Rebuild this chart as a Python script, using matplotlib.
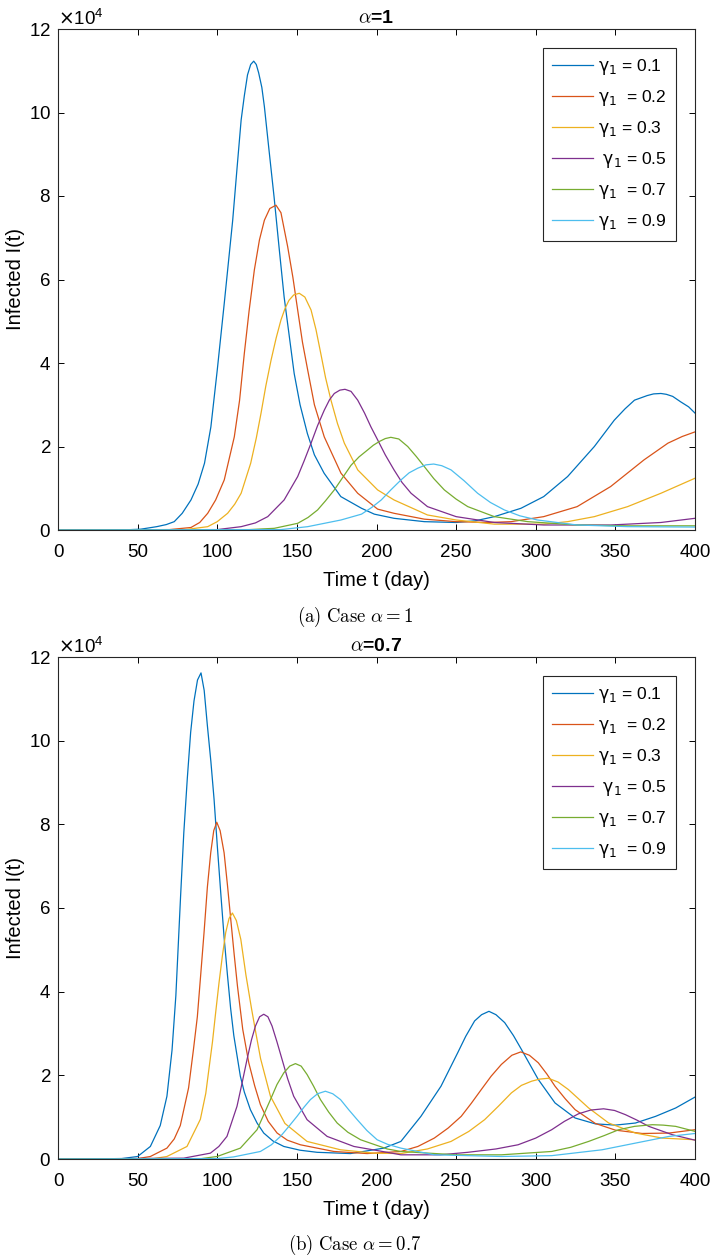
import matplotlib
matplotlib.use("Agg")
import numpy as np
import matplotlib.pyplot as plt
from matplotlib.ticker import ScalarFormatter, MultipleLocator

plt.rcParams['font.family'] = ['Liberation Sans', 'DejaVu Sans']
plt.rcParams['mathtext.fontset'] = 'dejavusans'

# values, infected in units of 1e4
labels = [r'$\mathrm{\gamma}_1$ = 0.1', r'$\mathrm{\gamma}_1$  = 0.2', r'$\mathrm{\gamma}_1$ = 0.3',
          r' $\mathrm{\gamma}_1$ = 0.5', r'$\mathrm{\gamma}_1$  = 0.7', r'$\mathrm{\gamma}_1$  = 0.9']
colors = ['#0072BD', '#D95319', '#EDB120', '#7E2F8E', '#77AC30', '#4DBEEE']

# alpha = 1
t_a1 = [0, 40, 52, 62, 68, 73, 78, 83.5, 88, 92, 96, 100, 104.4, 109.7, 112.5, 115, 117, 119, 121, 122.9,
        124.5, 126, 128, 129.6, 132.5, 135.7, 139, 142, 148.3, 152, 156.6, 161, 167.1, 177.6, 190.6,
        198.6, 211, 230, 250, 262, 274, 290.7, 305, 320, 336.8, 349.3, 356, 362, 370, 374, 378.6, 382,
        386, 391, 396, 400]
i_a1 = [0, 0, 0.02, 0.08, 0.13, 0.2, 0.4, 0.72, 1.1, 1.6, 2.47, 3.83, 5.43, 7.42, 8.7, 9.82, 10.4, 10.9,
        11.15, 11.23, 11.15, 10.95, 10.6, 10.14, 9.1, 7.97, 6.7, 5.58, 3.75, 3.0, 2.31, 1.8, 1.36, 0.8,
        0.52, 0.38, 0.28, 0.2, 0.18, 0.22, 0.32, 0.52, 0.8, 1.28, 2.0, 2.63, 2.9, 3.11, 3.22, 3.26, 3.27,
        3.25, 3.2, 3.07, 2.95, 2.8]
t_a2 = [0, 70, 83.5, 89, 94, 99, 104.4, 110.7, 114, 117, 120, 123.3, 126.5, 129.6, 133, 136.9, 140, 144.2,
        147.5, 150.5, 153.5, 156.8, 161, 167.2, 177.7, 188.2, 200.7, 211, 230, 250, 270, 284.5, 305,
        326, 347, 368, 383, 392, 400]
i_a2 = [0, 0.01, 0.06, 0.18, 0.4, 0.72, 1.2, 2.23, 3.1, 4.23, 5.25, 6.23, 6.95, 7.42, 7.7, 7.78, 7.6,
        6.79, 6.05, 5.27, 4.5, 3.83, 3.0, 2.23, 1.36, 0.88, 0.5, 0.4, 0.26, 0.2, 0.18, 0.2, 0.32, 0.56,
        1.04, 1.68, 2.08, 2.24, 2.35]
t_a3 = [0, 80, 94, 100, 106.5, 111, 115, 121, 124.5, 127.5, 130.5, 133.8, 137, 140, 142.5, 145, 148,
        151.5, 155, 158.9, 162, 165, 168, 171.4, 175.5, 179.8, 188.2, 200.7, 211, 232, 250, 274, 305, 320,
        336.8, 357.7, 378.6, 400]
i_a3 = [0, 0.01, 0.08, 0.2, 0.4, 0.62, 0.88, 1.6, 2.2, 2.8, 3.45, 4.07, 4.6, 5.03, 5.3, 5.5, 5.63, 5.67,
        5.58, 5.27, 4.8, 4.23, 3.65, 3.11, 2.55, 2.08, 1.44, 0.96, 0.72, 0.36, 0.24, 0.14, 0.14, 0.2, 0.32,
        0.56, 0.88, 1.24]
t_a5 = [0, 100, 115, 124, 131.7, 142, 150.5, 154.5, 158.9, 163, 167.2, 170.5, 173.5, 177, 180.2, 184,
        188.2, 192.5, 196.5, 200.7, 205.5, 211, 216, 221.7, 232, 250, 274, 305, 347, 378.6, 400]
i_a5 = [0, 0.01, 0.08, 0.17, 0.32, 0.72, 1.28, 1.65, 2.08, 2.5, 2.87, 3.12, 3.27, 3.35, 3.37, 3.32,
        3.11, 2.8, 2.47, 2.16, 1.8, 1.44, 1.14, 0.88, 0.56, 0.32, 0.18, 0.12, 0.12, 0.18, 0.28]
t_a7 = [0, 120, 135.8, 150.5, 157, 163, 168, 173.5, 179, 184, 189, 194.5, 198, 201.8, 205.5, 209, 214,
        219.6, 225, 230, 236, 242.6, 250, 257.3, 274, 295, 326, 357.7, 400]
i_a7 = [0, 0.01, 0.04, 0.16, 0.3, 0.48, 0.7, 0.96, 1.27, 1.55, 1.75, 1.92, 2.03, 2.12, 2.19, 2.22, 2.18,
        2.0, 1.76, 1.52, 1.23, 0.96, 0.74, 0.56, 0.32, 0.2, 0.12, 0.1, 0.1]
t_a9 = [0, 140, 156.8, 177.7, 190.6, 197, 203, 209, 215.4, 220.5, 225.9, 231, 235.9, 241, 246.8, 255,
        263.5, 271.5, 280.3, 290, 301, 326, 357.7, 400]
i_a9 = [0, 0.01, 0.08, 0.24, 0.38, 0.54, 0.72, 0.96, 1.2, 1.37, 1.48, 1.56, 1.58, 1.54, 1.44, 1.18, 0.88,
        0.66, 0.48, 0.34, 0.24, 0.12, 0.08, 0.07]

# alpha = 0.7
t_b1 = [0, 40, 50, 58, 64.2, 68.4, 71.6, 74, 77, 79, 81.2, 83.3, 85.4, 87.6, 89.8, 91.8, 93.8, 96, 98,
        100, 102.2, 104.3, 106.4, 108.4, 110.4, 114.5, 117, 120.8, 125, 129.2, 135, 141.8, 152, 162.7,
        183.7, 204.6, 215.3, 227.9, 240.5, 251, 256, 261.6, 266, 270.6, 275, 280.5, 286, 291, 301.6,
        312.1, 324.7, 337.4, 350, 362.6, 375.3, 387.9, 400]
i_b1 = [0, 0.01, 0.06, 0.3, 0.8, 1.5, 2.6, 3.9, 6.3, 7.8, 9.1, 10.2, 10.95, 11.45, 11.62, 11.2, 10.36,
        9.5, 8.6, 7.5, 6.36, 5.3, 4.4, 3.6, 2.95, 1.98, 1.6, 1.18, 0.86, 0.62, 0.43, 0.3, 0.21, 0.16, 0.13,
        0.26, 0.42, 1.02, 1.74, 2.54, 2.93, 3.3, 3.45, 3.53, 3.45, 3.26, 2.95, 2.62, 1.9, 1.34, 0.98,
        0.84, 0.81, 0.86, 1.02, 1.22, 1.48]
t_b2 = [0, 50, 58, 68.4, 73, 76.8, 82, 85, 87.5, 89.6, 91.7, 93.8, 95.9, 97.8, 99.7, 101.8, 104.3, 106.4,
        108.5, 110.6, 112.7, 116, 119.8, 123.5, 127.1, 132, 137.6, 144, 152.2, 173.2, 194.1, 215.3, 226,
        236.3, 245, 253.2, 259.5, 265.8, 272, 278.4, 285, 290.6, 296, 301.6, 307, 312.1, 318.5, 324.7,
        337.4, 350, 366.8, 383.7, 400]
i_b2 = [0, 0.01, 0.06, 0.26, 0.48, 0.8, 1.7, 2.6, 3.4, 4.4, 5.41, 6.5, 7.32, 7.85, 8.05, 7.85, 7.32, 6.55,
        5.72, 4.9, 4.13, 3.1, 2.3, 1.75, 1.3, 0.9, 0.62, 0.45, 0.34, 0.18, 0.13, 0.18, 0.3, 0.5, 0.74,
        1.02, 1.33, 1.66, 1.98, 2.26, 2.48, 2.56, 2.48, 2.3, 2.03, 1.74, 1.44, 1.18, 0.85, 0.69, 0.61,
        0.62, 0.7]
t_b3 = [0, 60, 68.4, 81, 87.5, 89.4, 92.8, 94.6, 97, 99, 101.1, 103.2, 105.3, 107.4, 109.5, 112, 114.8,
        118, 121.5, 124.3, 127.2, 133.4, 142.5, 156.4, 177.4, 198.3, 215.3, 232, 246.8, 258, 267.9, 276.5,
        284.7, 291, 297.4, 302.5, 307.9, 314, 320.5, 333.2, 345.8, 362.6, 379.5, 400]
i_b3 = [0, 0.01, 0.06, 0.3, 0.8, 0.95, 1.57, 2.1, 2.8, 3.5, 4.21, 4.85, 5.41, 5.75, 5.88, 5.7, 5.25, 4.4,
        3.6, 3.0, 2.4, 1.5, 0.85, 0.42, 0.22, 0.14, 0.13, 0.24, 0.42, 0.66, 0.94, 1.26, 1.58, 1.76, 1.86,
        1.91, 1.93, 1.84, 1.66, 1.22, 0.86, 0.62, 0.5, 0.46]
t_b5 = [0, 78.9, 95.7, 101, 106.1, 112.4, 115.5, 118.7, 121.5, 124, 126.6, 129.2, 131.8, 134.4, 137.5,
        140.7, 144.2, 148, 156.4, 169, 185.8, 206.7, 215.3, 240, 257.4, 275, 288.9, 300, 310, 318, 326.8,
        334.5, 342.6, 349.5, 356.3, 363.5, 371, 385.8, 400]
i_b5 = [0, 0.02, 0.14, 0.3, 0.54, 1.26, 1.8, 2.38, 2.85, 3.18, 3.4, 3.46, 3.4, 3.18, 2.8, 2.38, 1.92, 1.5,
        0.94, 0.54, 0.3, 0.16, 0.1, 0.1, 0.16, 0.24, 0.34, 0.5, 0.7, 0.9, 1.08, 1.17, 1.2, 1.16, 1.06,
        0.93, 0.78, 0.58, 0.45]
t_b7 = [0, 90, 99.9, 114.5, 125, 129, 133.4, 137.5, 141.8, 145.5, 149.1, 152.7, 156.4, 160.5, 164.8, 170,
        175.3, 182, 190, 206.7, 215.3, 250, 278.4, 310, 322, 333.2, 343, 352.1, 362, 373.2, 380, 387.9,
        400]
i_b7 = [0, 0.01, 0.06, 0.26, 0.7, 1.04, 1.42, 1.78, 2.06, 2.22, 2.28, 2.22, 2.02, 1.74, 1.42, 1.12, 0.86,
        0.64, 0.46, 0.24, 0.18, 0.1, 0.1, 0.18, 0.28, 0.42, 0.56, 0.7, 0.78, 0.82, 0.81, 0.78, 0.66]
t_b9 = [0, 100, 110.3, 127.1, 134, 139.7, 145, 150.1, 154.5, 158.5, 163, 167.9, 172.5, 177.4, 182.5,
        187.9, 194, 200.4, 207, 215.3, 236.3, 278.4, 310, 341.6, 362.6, 383.7, 400]
i_b9 = [0, 0.01, 0.05, 0.18, 0.34, 0.54, 0.78, 1.02, 1.24, 1.42, 1.56, 1.62, 1.56, 1.42, 1.18, 0.94, 0.68,
        0.46, 0.35, 0.26, 0.1, 0.06, 0.08, 0.22, 0.38, 0.54, 0.61]

panels = [
    (r'$\alpha$=1', r'$\mathrm{(a)\ Case}\ \alpha = 1$',
     [(t_a1, i_a1), (t_a2, i_a2), (t_a3, i_a3), (t_a5, i_a5), (t_a7, i_a7), (t_a9, i_a9)]),
    (r'$\alpha$=0.7', r'$\mathrm{(b)\ Case}\ \alpha = 0.7$',
     [(t_b1, i_b1), (t_b2, i_b2), (t_b3, i_b3), (t_b5, i_b5), (t_b7, i_b7), (t_b9, i_b9)]),
]

W, H = 710, 1255
fig = plt.figure(figsize=(W / 100, H / 100), dpi=100)
axes_px = [(58, 29, 695, 530), (58, 657, 695, 1159)]
caption_y = [617, 1245]
edge = '#262626'

for (title, caption, series), (x0, y0, x1, y1), cy in zip(panels, axes_px, caption_y):
    ax = fig.add_axes([x0 / W, 1 - y1 / H, (x1 - x0) / W, (y1 - y0) / H])
    for (t, v), c, lab in zip(series, colors, labels):
        ax.plot(t, np.array(v) * 1e4, color=c, lw=0.9, label=lab)
    ax.set_xlim(0, 400)
    ax.set_ylim(0, 12e4)
    ax.xaxis.set_major_locator(MultipleLocator(50))
    ax.yaxis.set_major_locator(MultipleLocator(2e4))
    fmt = ScalarFormatter(useMathText=True)
    fmt.set_powerlimits((4, 4))
    ax.yaxis.set_major_formatter(fmt)
    ax.yaxis.get_offset_text().set_fontsize(13.5)
    ax.tick_params(direction='in', length=4, width=0.7, top=True, right=True,
                   labelsize=13.5, colors='black')
    ax.tick_params(axis='x', pad=10)
    ax.tick_params(axis='y', pad=5)
    for sp in ax.spines.values():
        sp.set_color(edge)
        sp.set_linewidth(0.8)
    ax.set_xlabel('Time t (day)', fontsize=14.5, labelpad=7)
    ax.set_ylabel('Infected I(t)', fontsize=14.5, labelpad=3)
    ax.set_title(title, fontsize=14, fontweight='bold', pad=4, math_fontfamily='cm')
    leg = ax.legend(loc='upper right', fontsize=12.5, handlelength=2.4, handletextpad=0.3,
                    labelspacing=0.64, borderpad=0.5, borderaxespad=1.1, fancybox=False,
                    framealpha=1)
    leg.get_frame().set_edgecolor(edge)
    leg.get_frame().set_linewidth(0.8)
    fig.text(0.5, 1 - cy / H, caption, ha='center', va='center', fontsize=13.5,
             math_fontfamily='cm')

fig.savefig('out.png', dpi=100)
